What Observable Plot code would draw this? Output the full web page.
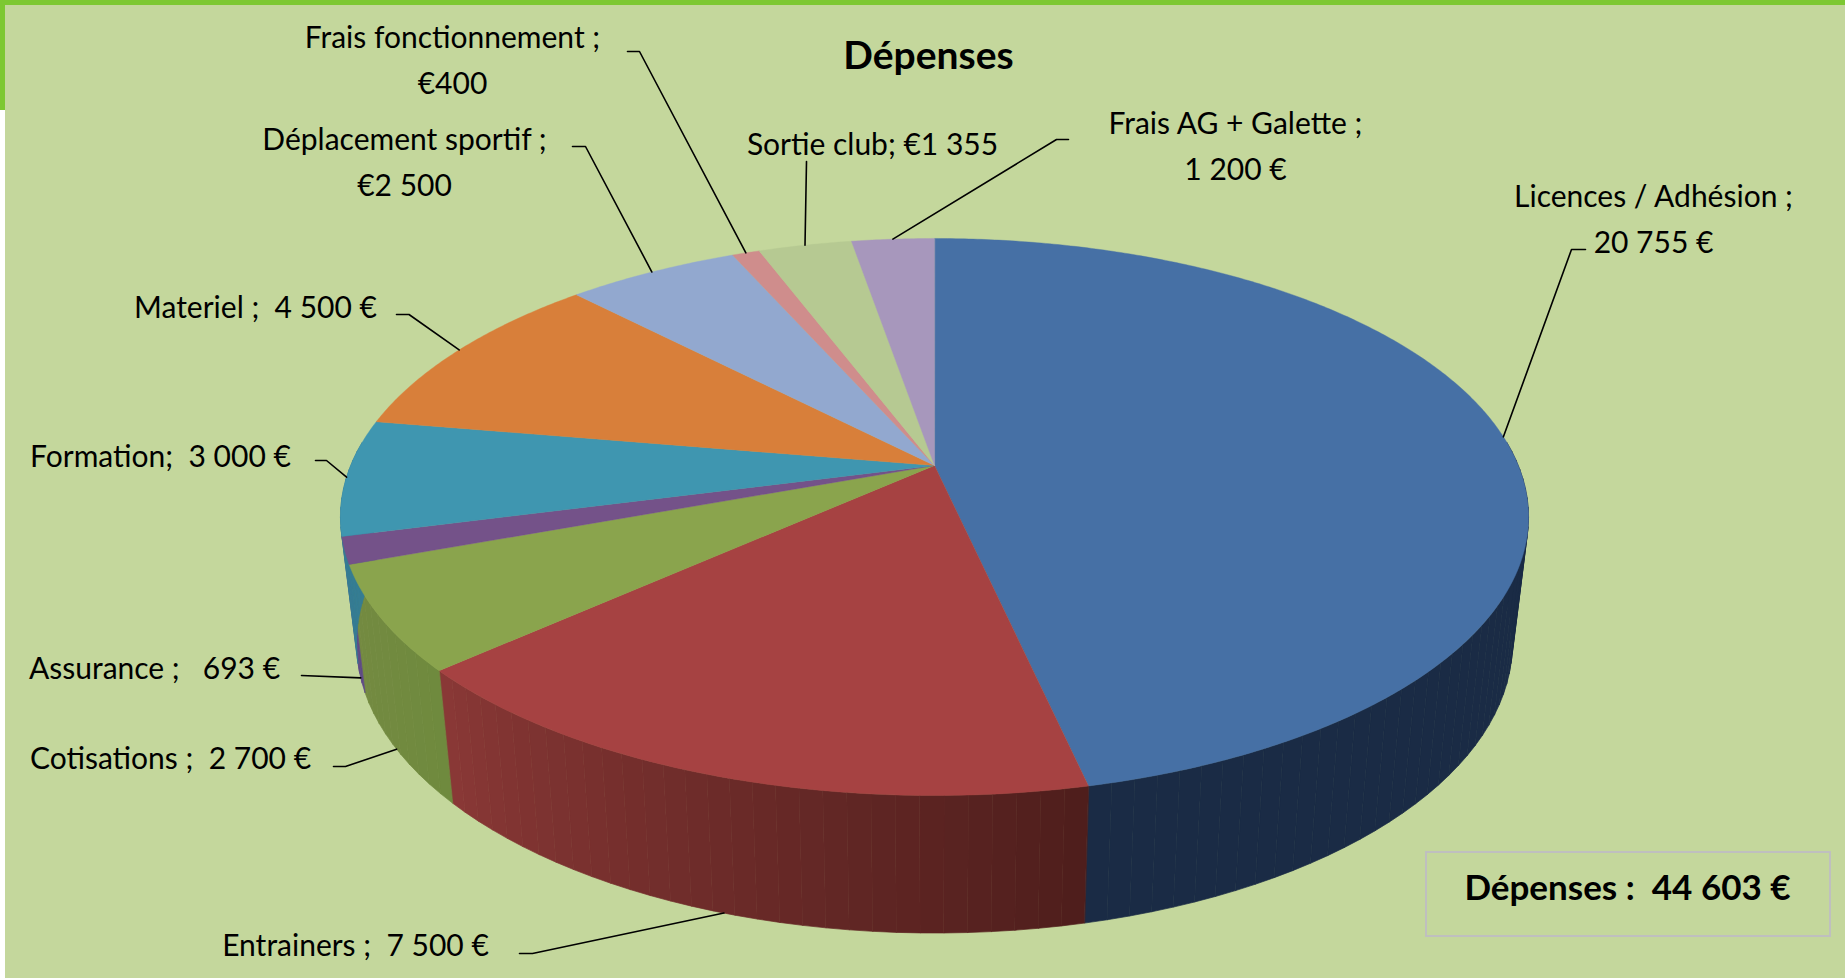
<!DOCTYPE html>
<html>
<head>
<meta charset="utf-8">
<script src="https://cdn.jsdelivr.net/npm/d3@7"></script>
<script src="https://cdn.jsdelivr.net/npm/@observablehq/plot@0.6"></script>
<style>
html,body{margin:0;padding:0;background:#fff;overflow:hidden}
svg{display:block}
</style>
</head>
<body>
<div id="chart"></div>
<script>
// Data, in slice order (clockwise from the top)
const categories = ["Licences / Adhésion","Entrainers","Cotisations","Assurance","Formation","Materiel","Déplacement sportif","Frais fonctionnement","Sortie club","Frais AG + Galette"];
const values = [20755,7500,2700,693,3000,4500,2500,400,1355,1200];
const labels = ["Licences / Adhésion ;\n20 755 €","Entrainers ;  7 500 €","Cotisations ;  2 700 €","Assurance ;   693 €","Formation;  3 000 €","Materiel ;  4 500 €","Déplacement sportif ;\n€2 500","Frais fonctionnement ;\n€400","Sortie club; €1 355","Frais AG + Galette ;\n1 200 €"];
const topColors = ["#4670A5","#A64242","#8AA44D","#745289","#3F96B0","#D87F3A","#92A8CF","#CF8D8C","#B6C992","#A797BC"];
const sideFrom = ["#1A2B45","#4E1E1C","#6F8A3E","#5E4A85","#357D93","#B56A30","#7A8DAD","#AD7675","#98A87A","#8C7E9D"];
const sideTo   = ["#1A2B45","#8A3836","#748A41","#5E4A85","#357D93","#B56A30","#7A8DAD","#AD7675","#98A87A","#8C7E9D"];
const title = "Dépenses";
const totalText = "Dépenses :  44 603 €";

// Layout of the drawing (perspective of the 3D disc, label placement)
const persp = 0.1849;
const rimTop = {x0:934, y0:465, a:583.8, b:269};
const rimBottom = {x0:934, y0:589, a:568, b:280};
const labelX = [1653,355,170,154,160,255,404,452,872,1235];
const labelY = [215,941,754,664,452,303,158,56,140,141.5];
const labelAnchor = ["middle","middle","middle","middle","middle","middle","middle","middle","middle","middle"];
const elbows = [[[1571,249],[1585,249]],[[532,953],[519,953]],[[345,766],[333,766]],[[301,675]],[[326,460],[315,460]],[[408.5,314],[396,314]],[[585,146],[572,146]],[[639,51],[627,51]],[[806,161]],[[1056,139],[1068,139]]];
const leaderOnSide = [false,true,true,true,false,false,false,false,false,false];

const rad = d => d*Math.PI/180;
const rimPoint = (rim,deg) => {
  const s=Math.sin(rad(deg)), c=Math.cos(rad(deg)), w=1+persp*c;
  return [rim.x0+rim.a*s/w, rim.y0-rim.b*c/w];
};
const total = d3.sum(values);
const cuts = d3.cumsum([0,...values]).map(v=>v/total*360);

// Polygons for the top faces
const topRows=[];
categories.forEach((name,i)=>{
  const a0=cuts[i], a1=cuts[i+1];
  const n=Math.max(2,Math.ceil((a1-a0)/0.5));
  const pts=[[rimTop.x0,rimTop.y0]];
  for(let k=0;k<=n;k++) pts.push(rimPoint(rimTop,a0+(a1-a0)*k/n));
  pts.forEach(p=>topRows.push({id:name,x:p[0],y:p[1],fill:topColors[i]}));
});

// Narrow strips for the shaded side wall
const sideRows=[];
const vis0=85, vis1=275, step=2;
categories.forEach((name,i)=>{
  const a0=Math.max(cuts[i],vis0), a1=Math.min(cuts[i+1],vis1);
  if(a1<=a0) return;
  const n=Math.max(1,Math.ceil((a1-a0)/step));
  const shade=d3.interpolateRgb(sideFrom[i],sideTo[i]);
  for(let k=0;k<n;k++){
    const u=a0+(a1-a0)*k/n, v=a0+(a1-a0)*(k+1)/n;
    const col=d3.color(shade((k+.5)/n)).formatHex();
    [rimPoint(rimTop,u),rimPoint(rimTop,v),rimPoint(rimBottom,v),rimPoint(rimBottom,u)]
      .forEach(p=>sideRows.push({id:name+k,x:p[0],y:p[1],fill:col}));
  }
});

// Leader lines: from the slice's mid-angle on the rim to the label
const leaderRows=[];
categories.forEach((name,i)=>{
  const mid=(cuts[i]+cuts[i+1])/2;
  const start=rimPoint(leaderOnSide[i]?rimBottom:rimTop,mid);
  [start,...elbows[i]].forEach(p=>leaderRows.push({id:name,x:p[0],y:p[1]}));
});

const labelRows=categories.map((name,i)=>({text:labels[i],x:labelX[i],y:labelY[i]}));
const font="Lato";
const plot=Plot.plot({
  width:1845,height:978,margin:0,
  x:{domain:[0,1845],range:[0,1845],axis:null},
  y:{domain:[0,978],range:[0,978],axis:null},
  color:{type:"identity"},
  style:{background:"transparent"},
  marks:[
    Plot.rect([{x1:5,x2:1845,y1:0,y2:978}],{x1:"x1",x2:"x2",y1:"y1",y2:"y2",fill:"#C4D79C"}),
    Plot.rect([{x1:0,x2:1845,y1:0,y2:5},{x1:0,x2:5,y1:0,y2:110}],{x1:"x1",x2:"x2",y1:"y1",y2:"y2",fill:"#7DC832"}),
    Plot.line(sideRows,{x:"x",y:"y",z:"id",fill:"fill",stroke:"fill",strokeWidth:0.7,curve:"linear-closed"}),
    Plot.line(topRows,{x:"x",y:"y",z:"id",fill:"fill",stroke:"fill",strokeWidth:0.4,curve:"linear-closed"}),
    Plot.line(leaderRows,{x:"x",y:"y",z:"id",stroke:"#000",strokeWidth:1.6,curve:"linear"}),
    Plot.text(labelRows,{x:"x",y:"y",text:"text",fontFamily:font,fontSize:30,fill:"#000",lineHeight:1.53,textAnchor:"middle"}),
    Plot.text([title],{x:()=>928,y:()=>56,text:d=>d,fontFamily:font,fontSize:39,fontWeight:700,fill:"#000"}),
    Plot.rect([{x1:1426,x2:1830,y1:852,y2:936}],{x1:"x1",x2:"x2",y1:"y1",y2:"y2",fill:"none",stroke:"#BFBFBF",strokeWidth:2}),
    Plot.text([totalText],{x:()=>1627,y:()=>888,text:d=>d,fontFamily:font,fontSize:35,fontWeight:700,fill:"#000"})
  ]
});
document.getElementById("chart").append(plot);
</script>
</body>
</html>
